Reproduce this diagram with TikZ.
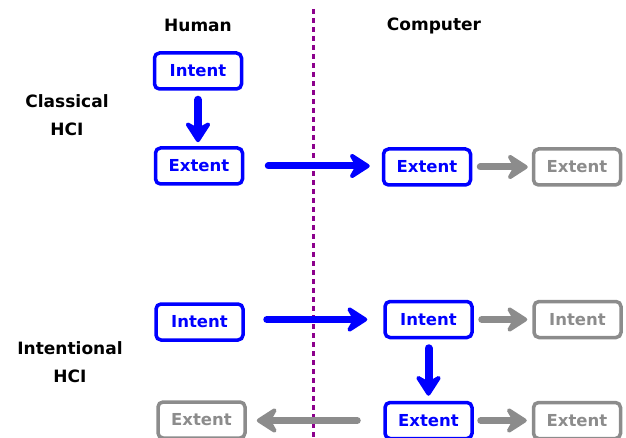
\documentclass[tikz,border=0pt]{standalone}
\usepackage{fontspec}
\setmainfont{DejaVu Sans}
\usetikzlibrary{arrows.meta}
\definecolor{hciblue}{RGB}{0,0,255}
\definecolor{hcigray}{RGB}{140,140,140}
\definecolor{hcipurple}{RGB}{140,0,140}
\tikzset{
  boxbase/.style={rounded corners=5pt, line width=3.5pt, minimum width=87pt,
    minimum height=36pt, inner sep=0pt, font=\fontsize{16.5}{18}\selectfont\bfseries},
  bluebox/.style={boxbase, draw=hciblue, text=hciblue},
  graybox/.style={boxbase, draw=hcigray, text=hcigray},
  lbl/.style={font=\fontsize{17}{28}\selectfont\bfseries, align=center},
  bigarrow/.style={line width=7pt, line cap=round,
    -{Stealth[round, length=25pt, width=32pt, inset=9pt]}},
  bluearrow/.style={bigarrow, draw=hciblue},
  grayarrow/.style={bigarrow, draw=hcigray},
}
\begin{document}
\begin{tikzpicture}[x=1pt, y=-1pt]
\useasboundingbox (0,0) rectangle (626,438);

% column headings and row labels
\node[lbl] (human) at (198,25) {Human};
\node[lbl] (computer) at (434,26) {Computer};
\node[lbl] (classical) at (67,115) {Classical\\HCI};
\node[lbl] (intentional) at (70,362) {Intentional\\HCI};

% divider between human and computer
\draw[hcipurple, line width=3pt, dash pattern=on 5pt off 4pt] (313,9) coordinate (divtop) -- (313,440) coordinate (divbot);

% classical HCI
\node[bluebox] (hI1) at (198,71) {Intent};
\node[bluebox] (hE1) at (199,166) {Extent};
\node[bluebox] (cE1) at (427,167) {Extent};
\node[graybox] (gE1) at (577,167) {Extent};

\draw[bluearrow, line width=8pt, shorten <=9pt, shorten >=4pt] (hI1.south) -- (hE1.north -| hI1.south);
\draw[bluearrow, shorten <=24pt, shorten >=12pt] (hE1.east) -- (hE1.east -| cE1.west);
\draw[grayarrow, shorten <=8pt, shorten >=4pt] (cE1.east) -- (gE1.west);

% intentional HCI
\node[bluebox] (hI2) at (199.5,322) {Intent};
\node[bluebox] (cI2) at (428.5,319.5) {Intent};
\node[graybox] (gI2) at (577.5,319.5) {Intent};
\node[bluebox] (cE2) at (428.5,420.5) {Extent};
\node[graybox] (gE2) at (577,420.5) {Extent};
\node[graybox] (hE2) at (201.5,420) {Extent};

\draw[bluearrow, shorten <=22pt, shorten >=16pt] (hI2.east |- cI2.west) -- (cI2.west);
\draw[grayarrow, shorten <=8pt, shorten >=5pt] (cI2.east) -- (gI2.west);
\draw[bluearrow, line width=8pt, shorten <=9pt, shorten >=5pt] (cI2.south) -- (cE2.north);
\draw[grayarrow, shorten <=7pt, shorten >=5pt] (cE2.east) -- (gE2.west);
\draw[grayarrow, shorten <=26pt, shorten >=10pt] (cE2.west) -- (hE2.east |- cE2.west);
\end{tikzpicture}
\end{document}
